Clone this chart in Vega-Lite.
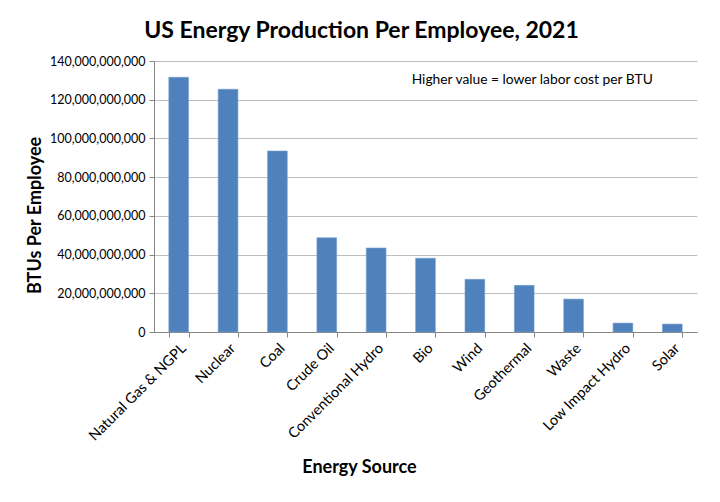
{
  "$schema": "https://vega.github.io/schema/vega-lite/v6.json",
  "autosize": "none",
  "width": 543,
  "height": 271,
  "padding": {"left": 154, "top": 61, "right": 23, "bottom": 170},
  "background": "white",
  "title": {
    "text": "US Energy Production Per Employee, 2021",
    "font": "Lato",
    "fontSize": 23,
    "fontWeight": "bold",
    "color": "#000000",
    "anchor": "middle",
    "dx": -64,
    "offset": 12
  },
  "layer": [
    {
      "data": {
        "values": [
          {"source": "Natural Gas & NGPL", "btu": 131600000000},
          {"source": "Nuclear", "btu": 125400000000},
          {"source": "Coal", "btu": 93500000000},
          {"source": "Crude Oil", "btu": 48700000000},
          {"source": "Conventional Hydro", "btu": 43400000000},
          {"source": "Bio", "btu": 38100000000},
          {"source": "Wind", "btu": 27200000000},
          {"source": "Geothermal", "btu": 24100000000},
          {"source": "Waste", "btu": 17000000000},
          {"source": "Low Impact Hydro", "btu": 4600000000},
          {"source": "Solar", "btu": 4100000000}
        ]
      },
      "mark": {"type": "bar", "color": "#4F81BD", "stroke": "#7A9FCF", "strokeWidth": 0.6},
      "encoding": {
        "x": {
          "field": "source",
          "type": "nominal",
          "sort": null,
          "scale": {"paddingInner": 0.6, "paddingOuter": 0.3},
          "axis": {
            "title": "Energy Source",
            "titleFont": "Lato",
            "titleFontSize": 18,
            "titleFontWeight": "bold",
            "titleColor": "#000000",
            "titleX": 205,
            "titleY": 135,
            "titleBaseline": "middle",
            "labelAngle": -45,
            "labelAlign": "right",
            "labelBaseline": "top",
            "labelFont": "Lato",
            "labelFontSize": 14.5,
            "labelColor": "#000000",
            "labelPadding": 4,
            "labelOverlap": false,
            "labelLimit": 300,
            "tickBand": "extent",
            "tickColor": "#868686",
            "tickSize": 5,
            "domainColor": "#868686",
            "grid": false
          }
        },
        "y": {
          "field": "btu",
          "type": "quantitative",
          "scale": {"domain": [0, 140000000000], "nice": false},
          "axis": {
            "title": "BTUs Per Employee",
            "titleFont": "Lato",
            "titleFontSize": 18,
            "titleFontWeight": "bold",
            "titleColor": "#000000",
            "titleX": -119,
            "titleY": 154,
            "titleAngle": -90,
            "titleAlign": "center",
            "titleBaseline": "middle",
            "values": [0, 20000000000, 40000000000, 60000000000, 80000000000, 100000000000, 120000000000, 140000000000],
            "format": ",d",
            "labelFont": "Lato",
            "labelFontSize": 12.5,
            "labelColor": "#000000",
            "labelPadding": 4,
            "labelOverlap": false,
            "labelFlush": false,
            "tickColor": "#868686",
            "tickSize": 5,
            "domainColor": "#868686",
            "gridColor": "#BFBFBF",
            "gridWidth": 1
          }
        }
      }
    },
    {
      "data": {"values": [{"note": "Higher value = lower labor cost per BTU"}]},
      "mark": {"type": "text", "font": "Lato", "fontSize": 13.8, "fontWeight": "normal", "fill": "#000000", "align": "center", "baseline": "middle", "dx": 8},
      "encoding": {
        "x": {"datum": "Geothermal", "type": "nominal"},
        "y": {"datum": 130000000000, "type": "quantitative",
          "axis": {
            "title": "BTUs Per Employee",
            "titleFont": "Lato",
            "titleFontSize": 18,
            "titleFontWeight": "bold",
            "titleColor": "#000000",
            "titleX": -119,
            "titleY": 154,
            "titleAngle": -90,
            "titleAlign": "center",
            "titleBaseline": "middle",
            "values": [0, 20000000000, 40000000000, 60000000000, 80000000000, 100000000000, 120000000000, 140000000000],
            "format": ",d",
            "labelFont": "Lato",
            "labelFontSize": 12.5,
            "labelColor": "#000000",
            "labelPadding": 4,
            "labelOverlap": false,
            "labelFlush": false,
            "tickColor": "#868686",
            "tickSize": 5,
            "domainColor": "#868686",
            "gridColor": "#BFBFBF",
            "gridWidth": 1
          }
        },
        "text": {"field": "note", "type": "nominal"}
      }
    }
  ],
  "config": {
    "view": {"stroke": null}
  }
}
